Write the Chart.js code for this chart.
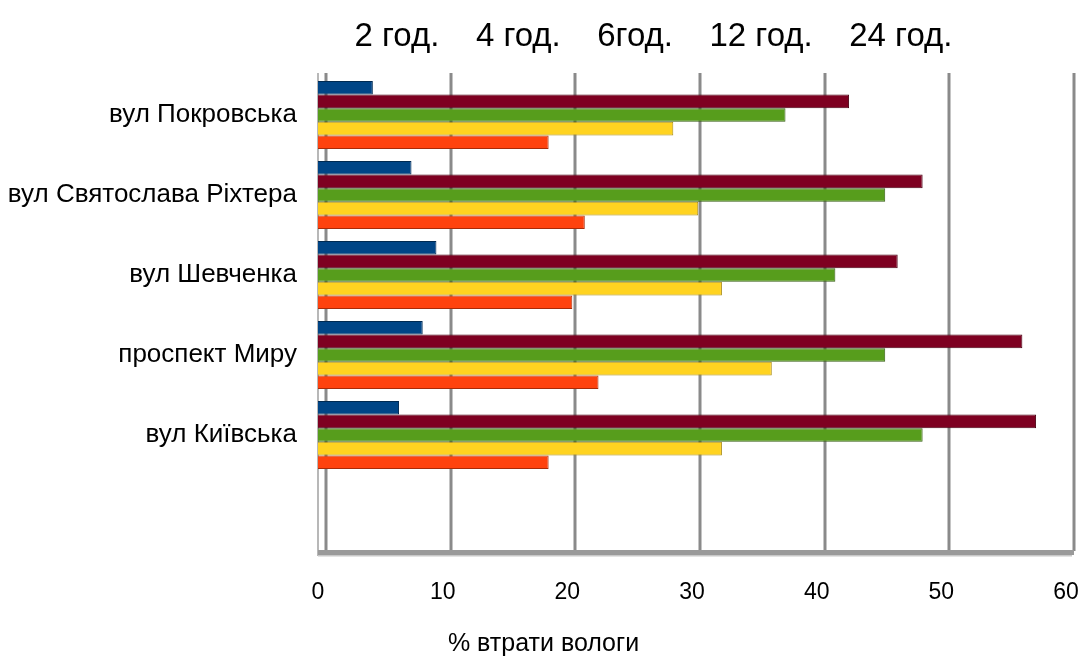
<!DOCTYPE html>
<html>
<head>
<meta charset="utf-8">
<script src="https://cdn.jsdelivr.net/npm/chart.js@4"></script>
<style>
  html, body { margin: 0; padding: 0; background: #fff; }
  #wrap { width: 1087px; height: 659px; }
</style>
</head>
<body>
<div id="wrap"><canvas id="chart"></canvas></div>
<script>
// streets (last slot stays empty, like in the original)
const streets = ['вул Покровська', 'вул Святослава Ріхтера', 'вул Шевченка', 'проспект Миру', 'вул Київська', ''];

// % moisture loss per street
const h2  = [4.4, 7.5, 9.5, 8.4, 6.5];
const h4  = [18.5, 21.4, 20.4, 22.5, 18.5];
const h6  = [28.5, 30.5, 32.4, 36.4, 32.4];
const h12 = [37.5, 45.5, 41.5, 45.5, 48.5];
const h24 = [42.6, 48.5, 46.5, 56.5, 57.6];

const legendOrder = ['2 год.', '4 год.', '6год.', '12 год.', '24 год.'];

const FONT = "'Liberation Sans', Arial, sans-serif";

// back wall grid + floor, shifted a bit to fake the 3d look
const wallPlugin = {
  id: 'wall',
  beforeInit(chart) {
    // extra room between the legend row and the plot
    const fit = chart.legend.fit;
    chart.legend.fit = function () {
      fit.call(this);
      this.height += 12;
    };
  },
  beforeDatasetsDraw(chart) {
    const { ctx, chartArea, scales } = chart;
    const x = scales.x;
    const d = 8;
    const top = chartArea.top - 2;
    ctx.save();
    ctx.strokeStyle = '#8a8a8a';
    ctx.lineWidth = 3;
    for (let v = 10; v <= 60; v += 10) {
      const px = Math.round(x.getPixelForValue(v)) + d;
      ctx.beginPath();
      ctx.moveTo(px, top);
      ctx.lineTo(px, chartArea.bottom - 4);
      ctx.stroke();
    }
    // left wall
    ctx.lineWidth = 1.5;
    ctx.strokeStyle = '#a0a0a0';
    ctx.beginPath();
    ctx.moveTo(chartArea.left, top);
    ctx.lineTo(chartArea.left, chartArea.bottom + 1);
    ctx.stroke();
    ctx.lineWidth = 3;
    ctx.strokeStyle = '#8a8a8a';
    ctx.beginPath();
    ctx.moveTo(chartArea.left + d, top);
    ctx.lineTo(chartArea.left + d, chartArea.bottom - 4);
    ctx.stroke();
    // floor
    ctx.fillStyle = '#9a9a9a';
    ctx.fillRect(chartArea.left, chartArea.bottom - 5, chartArea.right - chartArea.left + d, 5);
    ctx.fillStyle = '#c8c8c8';
    ctx.fillRect(chartArea.left, chartArea.bottom, chartArea.right - chartArea.left + d - 2, 1.5);
    ctx.restore();
  }
};

new Chart(document.getElementById('chart'), {
  type: 'bar',
  data: {
    labels: streets,
    datasets: [
      { label: '2 год.',  data: h2,  backgroundColor: '#004586', borderColor: '#002a52' },
      { label: '24 год.', data: h24, backgroundColor: '#7e0021', borderColor: '#4a0013' },
      { label: '12 год.', data: h12, backgroundColor: '#579d1c', borderColor: '#345e10' },
      { label: '6год.',   data: h6,  backgroundColor: '#ffd320', borderColor: '#a88a10' },
      { label: '4 год.',  data: h4,  backgroundColor: '#ff420e', borderColor: '#a82a08' }
    ].map(ds => Object.assign(ds, {
      borderWidth: 1,
      categoryPercentage: 0.85,
      barPercentage: 1.0
    }))
  },
  options: {
    indexAxis: 'y',
    responsive: true,
    maintainAspectRatio: false,
    animation: false,
    layout: { padding: { left: 0, right: 0, top: 0, bottom: 0 } },
    plugins: {
      legend: {
        position: 'top',
        align: 'start',
        fullSize: false,
        labels: {
          boxWidth: 0,
          boxHeight: 0,
          padding: 20,
          color: '#000',
          font: { family: FONT, size: 33 },
          sort: (a, b) => legendOrder.indexOf(a.text) - legendOrder.indexOf(b.text)
        }
      },
      title: {
        display: true,
        position: 'bottom',
        text: '% втрати вологи',
        color: '#000',
        font: { family: FONT, size: 25, weight: 'normal' },
        padding: { top: 22, bottom: 0 }
      },
      tooltip: { enabled: false }
    },
    scales: {
      x: {
        min: 0,
        max: 60,
        ticks: { stepSize: 10, color: '#000', padding: 24, font: { family: FONT, size: 23 } },
        grid: { display: false, drawTicks: false },
        border: { display: false },
        afterFit(scale) {
          scale.height = 52;
          scale.paddingRight = 21;
        }
      },
      y: {
        ticks: { color: '#000', padding: 21, font: { family: FONT, size: 26 } },
        grid: { display: false, drawTicks: false },
        border: { display: false },
        afterFit(scale) { scale.width = 318; }
      }
    }
  },
  plugins: [wallPlugin]
});
</script>
</body>
</html>
